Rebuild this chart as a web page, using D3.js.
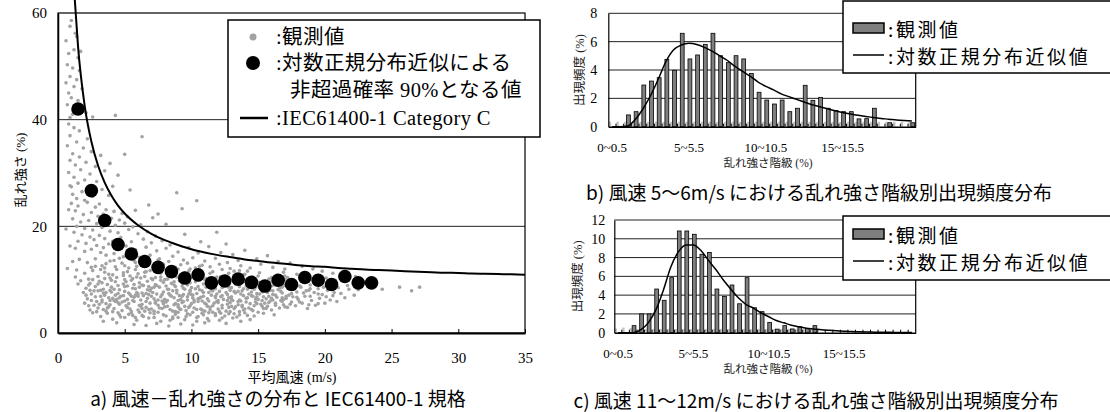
<!DOCTYPE html>
<html>
<head>
<meta charset="utf-8">
<script src="https://cdn.jsdelivr.net/npm/d3@7"></script>
<style>
body { margin: 0; background: #fff; }
svg { display: block; }
</style>
</head>
<body>
<svg id="fig" width="1110" height="412"></svg>
<script>
// ---- a) wind speed vs turbulence intensity ----
const observed = [
[0.9,57.5],[1.3,56.2],[0.6,54.8],[1.2,53.1],[0.8,52.4],[1.5,51.6],[0.7,50.3],[1.1,49.7],[1.6,49.2],[0.9,48.1],[1.4,47.5],[0.6,46.9],[1.2,46.2],[1.8,45.8],[0.8,45.0],[1.0,44.1],[1.5,43.6],[0.7,42.8],[1.3,42.2],[1.9,41.7],[1.1,41.0],[0.9,40.4],[2.1,41.3],[2.6,40.5],[4.3,40.8],[1.7,52.8],[1.0,58.6],[1.4,55.6],
[0.8,39.2],[1.2,38.5],[1.6,37.9],[0.9,37.0],[2.2,36.4],[1.4,35.8],[0.7,35.1],[1.9,34.7],[2.5,34.0],[1.1,33.6],[1.6,33.0],[3.2,33.3],[0.9,32.4],[2.1,32.0],[1.3,31.5],[2.8,31.2],[1.7,30.6],[0.8,30.1],[2.4,29.8],[3.5,30.4],[1.2,29.2],[2.0,28.7],[1.5,28.1],[2.9,28.4],[0.9,27.6],[2.3,27.1],[1.8,26.5],[3.3,26.9],[1.1,26.0],[2.6,25.6],[1.4,25.2],[3.8,25.8],[2.0,24.9],[6.3,36.8],[5.0,33.5],[3.9,31.8],[4.5,29.6],[4.1,27.5],[5.4,26.8],[8.9,26.3],[9.3,23.3],[10.4,24.8],[6.8,24.0],[5.8,23.0],[7.5,22.3],
[1.0,24.3],[1.5,23.8],[2.2,24.5],[2.8,23.6],[3.1,24.2],[3.6,23.1],[4.2,22.8],[4.8,22.4],[1.3,22.9],[1.9,22.2],[2.5,22.6],[3.0,21.9],[3.4,22.3],[4.0,21.5],[4.6,21.2],[5.2,21.8],[1.1,21.4],[1.7,20.8],[2.3,21.1],[2.9,20.5],[3.7,20.9],[4.3,20.2],[5.0,20.6],[5.6,19.9],[6.2,20.3],[1.4,20.0],[2.0,19.6],[2.6,19.3],[3.3,19.8],[3.9,19.1],[4.5,18.8],[5.3,19.4],[6.0,18.6],[6.7,19.0],[7.3,18.2],[1.2,18.9],[1.8,18.4],[2.4,18.0],[2.7,17.5],[3.1,18.3],[3.5,17.7],[4.1,17.2],[4.7,17.9],[5.5,17.1],[6.4,17.6],[7.0,16.9],[7.8,17.3],[8.4,16.5],[1.5,17.2],[2.1,16.8],[2.9,16.4],[3.4,16.0],[3.8,16.7],[4.4,15.8],[5.1,16.3],[5.8,15.6],[6.6,16.1],[7.4,15.4],[8.1,15.9],[9.0,15.2],[9.8,16.0],[10.5,15.0],[1.3,15.9],[2.0,15.3],[2.5,15.7],[3.2,15.1],[3.6,14.6],[4.2,14.9],[4.9,14.3],[5.4,14.8],[6.1,14.2],[6.9,14.6],[7.6,13.9],[8.6,14.4],[9.4,13.7],[10.1,14.1],[11.0,13.5],[11.8,14.0],[12.7,13.2],[13.5,13.6],
[1.6,13.8],[2.2,13.2],[2.8,13.9],[3.3,12.6],[3.9,13.5],[4.3,12.4],[4.8,13.1],[5.3,12.2],[5.7,13.6],[6.3,12.8],[6.8,13.3],[7.2,12.1],[7.9,12.9],[8.3,13.4],[8.8,12.3],[9.2,12.8],[9.7,13.1],[10.3,12.2],[10.8,12.7],[11.4,12.4],[12.1,12.9],[12.9,12.1],[13.7,12.6],[14.4,12.2],[15.2,12.9],[16.1,12.3],[17.0,12.0],[2.5,12.3],[3.6,13.0],[4.6,14.0],[5.9,12.5],[7.5,13.7],[9.9,12.0],
[1.4,11.8],[2.0,11.2],[2.6,11.7],[3.0,10.6],[3.5,11.4],[3.9,10.3],[4.4,11.9],[4.9,10.8],[5.2,11.5],[5.6,10.2],[6.0,11.1],[6.5,10.6],[6.9,11.7],[7.3,10.4],[7.7,11.2],[8.2,10.1],[8.6,11.6],[9.1,10.7],[9.5,11.3],[10.0,10.4],[10.6,11.0],[11.1,10.2],[11.6,11.5],[12.2,10.6],[12.8,11.2],[13.3,10.3],[13.9,10.9],[14.6,10.5],[15.1,11.3],[15.8,10.1],[16.4,10.8],[17.2,10.4],[17.9,11.0],[18.6,10.2],[19.3,10.7],[20.1,10.3],[20.8,9.9],[2.3,10.1],[4.1,10.9],[5.8,11.9],[7.1,10.0],[8.9,10.5],[10.3,11.8],[12.5,10.0],[14.2,11.6],[3.2,11.9],[6.2,10.3],[9.8,10.9],[11.9,10.5],[13.6,11.7],[16.9,11.4],[18.2,9.8],[21.4,10.2],[22.9,9.6],[23.8,8.9],[24.3,8.2],[25.6,8.6],[26.5,7.9],[27.1,8.6],
[1.7,9.8],[2.1,8.4],[2.4,9.3],[2.8,8.7],[3.1,9.7],[3.4,8.2],[3.7,9.1],[4.0,8.6],[4.3,9.6],[4.6,8.1],[4.9,9.2],[5.2,8.8],[5.5,9.9],[5.8,8.3],[6.1,9.4],[6.4,8.9],[6.7,9.7],[7.0,8.4],[7.3,9.1],[7.6,8.6],[7.9,9.5],[8.2,8.2],[8.5,9.3],[8.8,8.7],[9.1,9.8],[9.4,8.4],[9.7,9.0],[10.0,8.5],[10.3,9.6],[10.6,8.1],[10.9,9.2],[11.2,8.8],[11.5,9.7],[11.8,8.3],[12.1,9.4],[12.4,8.9],[12.7,9.8],[13.0,8.5],[13.3,9.2],[13.6,8.7],[13.9,9.6],[14.2,8.2],[14.5,9.1],[14.8,8.6],[15.1,9.5],[15.4,8.3],[15.7,9.3],[16.0,8.8],[16.3,9.7],[16.6,8.4],[16.9,9.0],[17.3,8.5],[17.7,9.4],[18.1,8.8],[18.5,9.6],[18.9,8.3],[19.4,9.1],[19.9,8.6],[20.4,9.3],[21.0,8.5],[21.7,8.9],[22.5,8.1],[2.6,10.0],[3.9,8.0],[5.0,10.0],[6.9,8.0],[8.0,10.0],[9.9,8.0],[11.0,10.0],[12.9,8.0],[14.0,10.0],[15.9,8.0],[17.0,10.0],[18.8,8.0],[3.3,9.4],[4.5,8.9],[5.7,9.1],[6.8,8.7],[7.7,9.9],[8.7,9.0],[9.6,9.4],[10.5,8.7],[11.4,9.1],[12.3,8.5],[13.2,9.7],[14.1,8.8],[15.0,9.0],[15.9,9.5],[16.8,8.6],[17.5,9.2],
[1.9,7.6],[2.2,6.4],[2.5,7.3],[2.8,6.8],[3.0,7.9],[3.3,6.2],[3.5,7.1],[3.8,6.6],[4.0,7.7],[4.2,6.1],[4.5,7.4],[4.7,6.9],[5.0,7.8],[5.2,6.3],[5.4,7.2],[5.7,6.7],[5.9,7.6],[6.2,6.2],[6.4,7.0],[6.7,6.5],[6.9,7.9],[7.2,6.4],[7.4,7.3],[7.7,6.8],[7.9,7.7],[8.2,6.1],[8.4,7.1],[8.7,6.6],[8.9,7.5],[9.2,6.3],[9.4,7.2],[9.7,6.8],[9.9,7.8],[10.2,6.2],[10.4,7.4],[10.7,6.7],[10.9,7.6],[11.2,6.4],[11.5,7.1],[11.8,6.6],[12.1,7.8],[12.4,6.3],[12.7,7.2],[13.0,6.8],[13.3,7.5],[13.6,6.2],[13.9,7.0],[14.2,6.6],[14.5,7.7],[14.8,6.4],[15.1,7.3],[15.4,6.8],[15.7,7.6],[16.0,6.5],[16.3,7.1],[16.7,7.8],[17.1,6.9],[17.5,7.4],[17.9,6.7],[18.4,7.5],[18.9,6.9],[19.5,7.3],[20.1,6.8],[20.7,7.6],[2.4,8.0],[3.2,6.9],[4.1,6.5],[4.9,7.0],[5.6,6.1],[6.3,7.5],[7.0,6.9],[7.8,6.0],[8.6,7.9],[9.3,6.9],[10.1,7.1],[10.8,6.0],[11.6,7.9],[12.3,7.0],[13.1,6.1],[13.8,7.9],[14.6,6.9],[15.3,6.1],[16.1,7.9],[16.9,6.3],[3.6,7.6],[4.4,6.3],[5.3,7.5],[6.0,6.9],[6.8,7.2],[7.5,6.2],[8.3,7.4],[9.0,6.1],[9.8,7.3],[10.6,6.5],[11.3,7.6],[12.0,6.1],[12.8,6.6],[13.5,7.8],[14.3,7.3],[15.0,6.3],[15.8,6.9],
[2.0,5.6],[2.4,4.3],[2.7,5.2],[3.0,4.7],[3.3,5.8],[3.6,4.1],[3.9,5.3],[4.2,4.6],[4.5,5.7],[4.8,4.2],[5.1,5.1],[5.4,4.5],[5.7,5.9],[6.0,4.3],[6.3,5.4],[6.6,4.8],[6.9,5.6],[7.2,4.1],[7.5,5.2],[7.8,4.6],[8.1,5.8],[8.4,4.4],[8.7,5.3],[9.0,4.9],[9.3,5.7],[9.6,4.2],[9.9,5.1],[10.2,4.7],[10.5,5.9],[10.8,4.3],[11.1,5.4],[11.4,4.8],[11.7,5.6],[12.0,4.5],[12.3,5.2],[12.6,4.1],[12.9,5.7],[13.2,4.6],[13.5,5.3],[13.8,4.9],[14.1,5.8],[14.5,4.4],[14.9,5.5],[15.3,5.0],[15.8,5.7],[16.3,5.2],[16.8,5.9],[17.4,5.4],[18.1,5.8],[18.8,5.3],[2.9,5.9],[3.8,4.9],[4.6,5.4],[5.5,4.0],[6.2,5.0],[7.0,4.5],[7.9,5.5],[8.8,4.0],[9.5,5.0],[10.4,4.4],[11.2,5.0],[12.1,4.0],[13.0,5.0],[13.9,4.3],[14.7,5.1],[3.4,4.4],[4.3,5.9],[5.2,4.8],[6.5,4.1],[7.3,5.9],[8.0,4.9],[9.1,4.6],[10.0,5.5],[11.0,4.1],[11.9,5.9],[12.8,4.8],[13.6,4.0],[15.6,4.6],[17.0,4.9],[19.5,5.5],
[2.6,3.8],[3.2,3.1],[3.7,3.7],[4.1,2.6],[4.6,3.4],[5.0,2.9],[5.5,3.8],[5.9,2.4],[6.3,3.3],[6.8,2.8],[7.2,3.6],[7.7,2.2],[8.1,3.2],[8.6,2.7],[9.0,3.9],[9.5,2.5],[9.9,3.4],[10.4,2.9],[10.8,3.7],[11.3,2.3],[11.8,3.3],[12.3,2.8],[12.8,3.6],[13.4,3.0],[14.0,3.8],[14.7,3.2],[15.4,3.7],[16.2,3.4],[4.4,1.9],[5.7,1.6],[6.6,1.4],[7.4,1.8],[8.3,1.3],[9.2,1.7],[10.1,1.5],[11.0,1.9],[12.6,1.8],[13.7,2.2],[3.4,2.2],[6.1,3.9],[8.8,3.5],[11.6,3.9],[14.4,2.5],
[11.3,16.2],[12.2,15.1],[13.1,14.7],[14.0,15.5],[14.9,13.9],[15.7,14.5],[16.5,13.4],[17.4,13.1],[18.3,12.5],[19.1,12.0],[19.8,11.6],[20.6,11.2],[21.5,11.0],[22.3,10.6],[10.7,17.1],[12.6,16.7],[9.5,18.5],[11.9,18.9],[8.1,20.4],[7.1,21.6],
[0.6,19.5],[0.9,16.3],[1.1,13.4],[0.7,12.1],[1.3,10.5],[1.5,9.2],[0.8,23.1],[1.0,27.4],
[2.3,9.0],[2.7,7.9],[3.0,9.2],[3.2,8.0],[3.5,10.2],[3.6,5.5],[3.8,11.0],[4.0,9.9],[4.1,4.0],[4.3,7.1],[4.4,10.4],[4.6,6.6],[4.7,3.0],[4.9,11.3],[5.0,6.0],[5.1,9.6],[5.3,3.5],[5.4,10.7],[5.5,6.9],[5.6,8.4],[5.8,2.9],[5.9,10.5],[6.0,7.3],[6.1,5.2],[6.3,9.0],[6.4,3.1],[6.5,11.4],[6.6,5.9],[6.7,8.1],[6.8,4.4],[7.0,10.2],[7.1,7.6],[7.2,2.9],[7.3,5.6],[7.4,8.9],[7.6,4.7],[7.7,10.5],[7.8,7.2],[7.9,3.4],[8.0,6.3],[8.1,8.8],[8.2,5.0],[8.3,11.0],[8.4,2.4],[8.5,6.9],[8.6,4.1],[8.7,9.6],[8.8,5.5],[8.9,8.0],[9.0,2.9],[9.1,7.0],[9.2,4.4],[9.3,10.1],[9.4,5.9],[9.5,8.2],[9.6,3.1],[9.7,6.2],[9.8,4.8],[9.9,9.4],[10.0,7.2],[10.1,3.9],[10.2,5.8],[10.3,8.3],[10.4,2.2],[10.5,6.4],[10.6,9.9],[10.7,4.5],[10.8,7.9],[10.9,3.4],[11.0,5.6],[11.1,8.6],[11.2,2.7],[11.3,6.0],[11.4,4.3],[11.5,8.0],[11.6,5.1],[11.7,10.1],[11.8,3.6],[11.9,7.3],[12.0,5.7],[12.1,2.4],[12.2,6.8],[12.3,4.7],[12.4,9.9],[12.5,3.2],[12.6,7.6],[12.7,5.4],[12.8,8.6],[12.9,4.0],[13.0,6.3],[13.1,2.8],[13.2,7.8],[13.3,4.9],[13.4,9.3],[13.5,5.9],[13.6,3.4],[13.7,7.3],[13.8,5.2],[13.9,8.3],[14.0,4.5],[14.1,6.5],[14.2,3.3],[14.3,9.0],[14.4,5.5],[14.5,7.0],[14.6,4.2],[14.7,8.2],[14.8,5.8],[14.9,6.8],[15.0,3.9],[15.1,8.6],[15.2,5.4],[15.3,7.7],[15.4,4.6],[15.5,9.1],[15.6,6.4],[15.7,5.0],[15.8,8.3],[15.9,6.0],[16.0,4.3],[16.1,7.2],[16.2,9.0],[16.3,5.6],[16.4,6.7],[16.5,8.1],[16.6,4.7],[16.7,6.1],[16.8,7.5],[16.9,5.3],[17.0,8.9],[17.1,6.5],[17.2,4.8],[17.3,7.1],[17.4,9.3],[17.5,5.8],[17.6,6.8],[17.7,8.2],[17.8,5.1],[17.9,7.7],[18.0,6.3],[18.2,8.6],[18.3,5.6],[18.5,6.9],[18.6,7.9],[18.7,4.6],[18.9,9.0],[19.0,6.1],[19.2,7.6],[19.3,5.2],[19.5,8.3],[19.6,6.5],[19.8,7.2],[20.0,5.6],[20.2,8.0],[20.4,6.2],[20.6,7.0],[20.9,5.9],[21.2,7.4],[21.5,6.6],[21.8,8.2],[22.2,7.1],
[2.1,7.1],[2.3,5.1],[2.5,6.1],[2.9,4.0],[3.1,5.4],[3.4,7.5],[3.7,4.7],[3.9,6.1],[4.2,8.2],[4.5,3.8],[4.8,5.8],[5.0,8.7],[5.3,5.5],[5.6,3.3],[5.8,7.1],[6.1,8.6],[6.3,4.6],[6.6,7.4],[6.9,3.8],[7.2,8.6],[7.5,3.9],[7.9,5.9],[8.3,8.2],[8.6,3.0],[9.0,5.3],[9.3,8.8],[9.7,3.6],[10.1,6.6],[10.5,3.1],[10.9,6.9],[11.3,3.8],[11.8,6.9],[12.2,3.7],[12.7,6.1],[13.2,3.6],[13.7,6.0],[14.3,4.7],[14.9,7.4],[15.5,5.6],[16.1,6.2],[16.8,6.6],[2.8,12.5],[3.5,12.2],[4.2,13.6],[5.0,12.6],[5.8,13.2],[6.6,11.5],[7.4,12.5],[8.2,11.4],[9.0,12.0],[9.8,11.6],[10.6,12.5],[11.4,11.2],[12.3,11.9],[13.2,11.6],[14.0,11.0],[15.0,10.7],[16.0,10.4],[17.0,10.7]
];
const binSpeed = [1.5,2.5,3.5,4.5,5.5,6.5,7.5,8.5,9.5,10.5,11.5,12.5,13.5,14.5,15.5,16.5,17.5,18.5,19.5,20.5,21.5,22.5,23.5];
const ti90 = [42.0,26.7,21.1,16.6,14.8,13.4,12.3,11.5,10.3,10.9,9.4,9.75,10.1,9.5,8.8,9.9,9.1,10.4,9.9,9.1,10.6,9.4,9.4];
const iecSpeed = [1.25,1.5,2,2.5,3,3.5,4,4.5,5,6,7,8,9,10,11,12,13,14,15,16,17,18,19,20,21,22,23,24,25,26,27,28,29,30,31,32,33,34,35];
const iecTI = [62.8,53.8,42.6,35.9,31.4,28.2,25.8,23.9,22.4,20.2,18.6,17.4,16.5,15.7,15.1,14.6,14.2,13.8,13.5,13.2,13.0,12.7,12.5,12.4,12.2,12.05,11.9,11.8,11.7,11.6,11.5,11.4,11.3,11.25,11.15,11.1,11.05,11.0,10.9];
const xTicksA = [0,5,10,15,20,25,30,35];
const yTicksA = [0,20,40,60];

// ---- b) / c) histograms ----
const bins = ["0~0.5","0.5~1","1~1.5","1.5~2","2~2.5","2.5~3","3~3.5","3.5~4","4~4.5","4.5~5",
  "5~5.5","5.5~6","6~6.5","6.5~7","7~7.5","7.5~8","8~8.5","8.5~9","9~9.5","9.5~10",
  "10~10.5","10.5~11","11~11.5","11.5~12","12~12.5","12.5~13","13~13.5","13.5~14","14~14.5","14.5~15",
  "15~15.5","15.5~16","16~16.5","16.5~17","17~17.5","17.5~18","18~18.5","18.5~19","19~19.5","19.5~20"];
const binTickLabels = ["0~0.5","5~5.5","10~10.5","15~15.5"];
const freqB = [0,0,0.83,1.06,2.94,3.22,3.46,4.75,3.98,6.59,4.78,5.06,5.81,6.59,5.01,4.52,5.01,4.78,3.75,2.43,
  1.88,1.6,1.88,1.06,1.3,2.92,1.86,2.07,1.3,1.15,1.06,1.06,0.55,0.57,1.3,0,0.28,0,0,0.28];
const fitB = [0,0,0.05,0.5,1.25,2.2,3.35,4.6,5.43,5.76,5.88,5.8,5.6,5.33,5.0,4.67,4.25,3.9,3.55,3.15,
  2.85,2.6,2.32,2.12,1.93,1.74,1.55,1.41,1.27,1.13,1.0,0.9,0.8,0.72,0.65,0.58,0.53,0.47,0.43,0.4];
const stubB = [0.35,0.35,0.35,0.35,0.35,0.35,0.35,0.35,0.35,0.35,0.35,0.35,0.35,0.35,0.35,0.35,0.35,0.35,0.35,0.35,
  0.35,0.35,0.35,0.35,0.35,0.35,0.35,0.35,0.35,0.35,0.35,0.35,0.35,0.35,0.35,0.35,0.35,0.35,0.35,0.35];
const freqC = [0,0,0.75,2.0,2.0,4.65,3.45,5.86,10.83,10.83,10.48,8.35,8.55,4.65,3.85,5.08,3.08,5.86,2.66,2.24,
  1.1,0.38,0.75,0.4,0.64,0.45,0.75,0,0,0,0,0,0,0,0,0,0,0,0,0];
const fitC = [0,0,0,0.3,1.05,2.4,4.5,7.0,8.6,9.35,9.33,8.75,7.7,6.7,5.58,4.6,3.7,3.0,2.6,2.1,
  1.7,1.3,1.05,0.8,0.63,0.48,0.4,0.31,0.25,0.2,0.16,0.12,0.1,0.08,0.06,0.05,0.04,0.03,0.02,0.02];
const stubC = [0.45,0.55,0.5,0.4,0.4,0.4,0.4,0.4,0.4,0.4,0.4,0.4,0.4,0.4,0.4,0.4,0.4,0.4,0.4,0.4,
  0.4,0.4,0.4,0.4,0.4,0.4,0.4,0,0,0,0,0,0,0,0,0,0,0,0,0];

const serif = '"Liberation Serif","Times New Roman","Noto Sans CJK JP",serif';
const gothic = '"Noto Sans CJK JP","Noto Sans",sans-serif';

const svg = d3.select("#fig");
svg.append("rect").attr("width", 1110).attr("height", 412).attr("fill", "#fff");

// ================= chart a =================
const xA = d3.scaleLinear().domain([0, 35]).range([58, 525]);
const yA = d3.scaleLinear().domain([0, 60]).range([333, 13]);
const gA = svg.append("g");

gA.selectAll(".gridA").data([20, 40]).join("line")
  .attr("x1", xA(0)).attr("x2", xA(35))
  .attr("y1", d => yA(d)).attr("y2", d => yA(d))
  .attr("stroke", "#222").attr("stroke-width", 1);

gA.append("g").selectAll("circle").data(observed).join("circle")
  .attr("cx", d => xA(d[0])).attr("cy", d => yA(d[1]))
  .attr("r", 1.8).attr("fill", "#a2a2a2");

gA.append("path")
  .datum(iecSpeed.map((v, i) => [v, iecTI[i]]))
  .attr("d", d3.line().x(d => xA(d[0])).y(d => yA(d[1])).curve(d3.curveMonotoneX))
  .attr("fill", "none").attr("stroke", "#000").attr("stroke-width", 2);

gA.append("g").selectAll("circle").data(binSpeed).join("circle")
  .attr("cx", d => xA(d)).attr("cy", (d, i) => yA(ti90[i]))
  .attr("r", 6.8).attr("fill", "#000");

gA.append("rect")
  .attr("x", xA(0)).attr("y", yA(60))
  .attr("width", xA(35) - xA(0)).attr("height", yA(0) - yA(60))
  .attr("fill", "none").attr("stroke", "#000").attr("stroke-width", 1.2);

const axA = gA.append("g").attr("transform", `translate(0,${yA(0)})`)
  .call(d3.axisBottom(xA).tickValues(xTicksA).tickSizeInner(-4).tickSizeOuter(0).tickPadding(19));
axA.select(".domain").attr("stroke-width", 2);
axA.selectAll("text").attr("font-family", serif).attr("font-size", 15).attr("fill", "#000");

const ayA = gA.append("g").attr("transform", `translate(${xA(0)},0)`)
  .call(d3.axisLeft(yA).tickValues(yTicksA).tickSize(0).tickPadding(11));
ayA.select(".domain").attr("stroke-width", 1.5);
ayA.selectAll("text").attr("font-family", serif).attr("font-size", 15).attr("fill", "#000");

gA.append("text").attr("transform", "translate(20,170) rotate(-90)")
  .attr("text-anchor", "middle").attr("dominant-baseline", "central")
  .attr("font-family", serif).attr("font-size", 13).text("乱れ強さ (%)");
gA.append("text").attr("x", 292).attr("y", 377)
  .attr("text-anchor", "middle").attr("dominant-baseline", "central")
  .attr("font-family", serif).attr("font-size", 14).text("平均風速 (m/s)");

// legend a
const lgA = gA.append("g");
lgA.append("rect").attr("x", 228).attr("y", 20).attr("width", 312).attr("height", 117)
  .attr("fill", "#fff").attr("stroke", "#000").attr("stroke-width", 1.5);
lgA.append("circle").attr("cx", 253).attr("cy", 37).attr("r", 3.5).attr("fill", "#a2a2a2");
lgA.append("circle").attr("cx", 253).attr("cy", 63).attr("r", 7).attr("fill", "#000");
lgA.append("line").attr("x1", 240).attr("x2", 268).attr("y1", 118).attr("y2", 118)
  .attr("stroke", "#000").attr("stroke-width", 2.5);
const lgAText = [
  { x: 276, y: 37, t: ":観測値" },
  { x: 276, y: 63, t: ":対数正規分布近似による" },
  { x: 290, y: 90, t: "非超過確率 90%となる値" },
  { x: 276, y: 118, t: ":IEC61400-1 Category C" }
];
lgA.selectAll("text").data(lgAText).join("text")
  .attr("x", d => d.x).attr("y", d => d.y).attr("dominant-baseline", "central")
  .attr("font-family", serif).attr("font-size", 20.5).attr("letter-spacing", 0.4).text(d => d.t);

svg.append("text").attr("x", 278).attr("y", 397)
  .attr("text-anchor", "middle").attr("dominant-baseline", "central")
  .attr("font-family", gothic).attr("font-size", 19)
  .text("a) 風速－乱れ強さの分布と IEC61400-1 規格");

// ================= histograms =================
function histogram(cfg) {
  const g = svg.append("g");
  const x = d3.scaleBand().domain(bins).range([cfg.x0, cfg.x1]);
  const y = d3.scaleLinear().domain([0, cfg.yMax]).range([cfg.y0, cfg.y1]);
  const bw = x.bandwidth();

  g.selectAll(".grid").data(cfg.yTicks.slice(1)).join("line")
    .attr("x1", cfg.x0).attr("x2", cfg.x1)
    .attr("y1", d => y(d)).attr("y2", d => y(d))
    .attr("stroke", "#222").attr("stroke-width", 1);
  g.append("line").attr("x1", cfg.x1).attr("x2", cfg.x1).attr("y1", y(cfg.yMax)).attr("y2", y(0))
    .attr("stroke", "#000").attr("stroke-width", 1.2);

  g.append("g").selectAll("rect").data(cfg.stub).join("rect")
    .attr("x", (d, i) => x(bins[i]) + bw * 0.05).attr("width", bw * 0.32)
    .attr("y", d => y(d)).attr("height", d => y(0) - y(d))
    .attr("fill", "#c4c4c4");
  g.append("g").selectAll("rect").data(cfg.freq).join("rect")
    .attr("x", (d, i) => x(bins[i]) + bw * 0.37).attr("width", bw * 0.5)
    .attr("y", d => y(d)).attr("height", d => y(0) - y(d))
    .attr("fill", "#7f7f7f").attr("stroke", "#000").attr("stroke-width", 0.8)
    .attr("visibility", d => d > 0 ? "visible" : "hidden");

  g.append("path").datum(cfg.fit)
    .attr("d", d3.line().x((d, i) => x(bins[i]) + bw / 2).y(d => y(d)).curve(d3.curveMonotoneX))
    .attr("fill", "none").attr("stroke", "#000").attr("stroke-width", 1.5);

  // ticks at bin boundaries
  g.append("g").selectAll("line").data(bins.slice(1)).join("line")
    .attr("x1", d => x(d)).attr("x2", d => x(d))
    .attr("y1", y(0)).attr("y2", y(0) - 3)
    .attr("stroke", "#000").attr("stroke-width", 1);

  const ax = g.append("g").attr("transform", `translate(0,${y(0)})`)
    .call(d3.axisBottom(x).tickValues(binTickLabels).tickSize(0).tickPadding(16));
  ax.select(".domain").attr("stroke-width", 1.5);
  ax.selectAll("text").attr("font-family", serif).attr("font-size", 13).attr("fill", "#000");

  const ay = g.append("g").attr("transform", `translate(${cfg.x0},0)`)
    .call(d3.axisLeft(y).tickValues(cfg.yTicks).tickSize(0).tickPadding(cfg.yPad));
  ay.select(".domain").attr("stroke-width", 1.2);
  ay.selectAll("text").attr("font-family", serif).attr("font-size", 14).attr("fill", "#000");

  g.append("text").attr("transform", `translate(${cfg.yTitleX},${(cfg.y0 + cfg.y1) / 2}) rotate(-90)`)
    .attr("text-anchor", "middle").attr("dominant-baseline", "central")
    .attr("font-family", serif).attr("font-size", 12.5).attr("fill", "#222").text("出現頻度 (%)");
  g.append("text").attr("x", 768).attr("y", cfg.y0 + 36)
    .attr("text-anchor", "middle").attr("dominant-baseline", "central")
    .attr("font-family", serif).attr("font-size", 11.5).attr("fill", "#222").text("乱れ強さ階級 (%)");

  // legend
  const lg = g.append("g");
  lg.append("rect").attr("x", 843).attr("y", cfg.lgTop).attr("width", 275).attr("height", cfg.lgH)
    .attr("fill", "#fff").attr("stroke", "#000").attr("stroke-width", 1.5);
  lg.append("rect").attr("x", 853).attr("y", cfg.lgTop + cfg.lgRow1 - 5).attr("width", 31).attr("height", 10)
    .attr("fill", "#7f7f7f").attr("stroke", "#000").attr("stroke-width", 1.5);
  lg.append("line").attr("x1", 853).attr("x2", 884)
    .attr("y1", cfg.lgTop + cfg.lgRow2).attr("y2", cfg.lgTop + cfg.lgRow2)
    .attr("stroke", "#000").attr("stroke-width", 1.5);
  lg.selectAll("text").data([[cfg.lgRow1, ":観測値"], [cfg.lgRow2, ":対数正規分布近似値"]]).join("text")
    .attr("x", 888).attr("y", d => cfg.lgTop + d[0]).attr("dominant-baseline", "central")
    .attr("font-family", gothic).attr("font-size", 19).attr("letter-spacing", 2.6).text(d => d[1]);

  svg.append("text").attr("x", cfg.capX).attr("y", cfg.capY)
    .attr("text-anchor", "middle").attr("dominant-baseline", "central")
    .attr("font-family", gothic).attr("font-size", 19).text(cfg.caption);
}

histogram({
  x0: 608.3, x1: 915.7, y0: 126.7, y1: 13.3, yMax: 8, yTicks: [0, 2, 4, 6, 8], yPad: 11,
  freq: freqB, fit: fitB, stub: stubB, yTitleX: 580,
  lgTop: 1, lgH: 72, lgRow1: 27, lgRow2: 54,
  capX: 819, capY: 191, caption: "b) 風速 5～6m/s における乱れ強さ階級別出現頻度分布"
});
histogram({
  x0: 614.3, x1: 915.7, y0: 332.7, y1: 220, yMax: 12, yTicks: [0, 2, 4, 6, 8, 10, 12], yPad: 9,
  freq: freqC, fit: fitC, stub: stubC, yTitleX: 578,
  lgTop: 216, lgH: 64, lgRow1: 18, lgRow2: 45,
  capX: 816, capY: 399, caption: "c) 風速 11～12m/s における乱れ強さ階級別出現頻度分布"
});
</script>
</body>
</html>
